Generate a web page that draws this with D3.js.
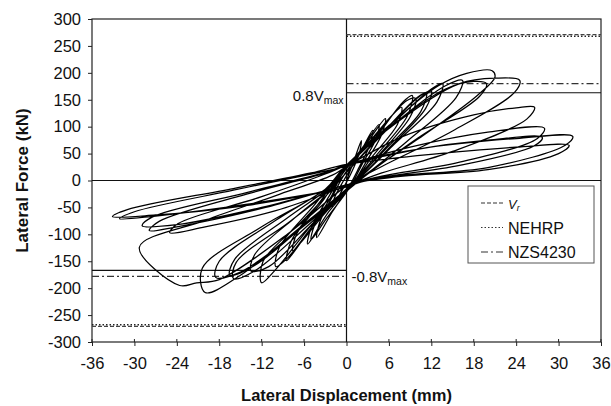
<!DOCTYPE html>
<html><head><meta charset="utf-8">
<script src="https://cdn.jsdelivr.net/npm/d3@7"></script>
<style>
body{margin:0;background:#fff}
text{font-family:"Liberation Sans",Arial,Helvetica,sans-serif;fill:#111}
</style>
</head><body><svg id="c" width="611" height="406"></svg>
<script>
// ---- data ----
const xTicks = [-36,-30,-24,-18,-12,-6,0,6,12,18,24,30,36];
const yTicks = [-300,-250,-200,-150,-100,-50,0,50,100,150,200,250,300];

// reference force levels (kN): [positive side, negative side]
const vrLevels    = [271, -271];
const nehrpLevels = [268, -268];
const nzsLevels   = [180, -178];
const v08Levels   = [163, -167];

// hysteresis cycles, [displacement mm, force kN]
const smallCycles = [
 [[0,0],[1,35],[2.1,74],[1.8,50],[0.6,12],[-0.5,-15],[-2,-50],[-1.7,-32],[-0.4,0]],
 [[-0.4,0],[1.8,48],[3.7,93],[3.3,66],[1.8,25],[0.2,-15],[-2,-58],[-4.2,-106],[-3.8,-78],[-1.8,-25],[-0.6,5]],
 [[-0.6,5],[2.5,62],[5.5,115],[5,86],[2.8,35],[0.8,-8],[-2.5,-58],[-5.5,-118],[-5,-88],[-2.5,-30],[-0.8,8]],
 [[-0.8,8],[2.2,60],[4.6,104],[4.2,78],[2.2,30],[0.6,-10],[-2.8,-70],[-5,-110],[-4.5,-82],[-2,-26],[-0.8,8]],
 [[-0.8,8],[3,68],[6.5,122],[7.8,136],[7.2,104],[3.5,42],[1,-5],[-3,-60],[-6.5,-116],[-7.6,-130],[-7,-98],[-3.2,-35],[-1,10]],
 [[-1,10],[4,78],[8,146],[9.3,158],[8.6,120],[4.3,48],[1.2,0],[-3.5,-62],[-7.5,-134],[-8.5,-149],[-7.8,-112],[-3.5,-35],[-1,12]],
 [[-1,12],[4,82],[8.5,148],[9.8,152],[9,118],[4.5,46],[1.2,-2],[-4,-72],[-8.5,-146],[-10,-160],[-9.5,-124],[-4.5,-45],[-1,12]]
];
const peakCycles = [
 [[-1,12],[5,88],[10,154],[11.3,163],[10.5,128],[5.5,58],[1.5,4],[-4,-68],[-10,-165],[-12,-190],[-11.8,-150],[-6,-72],[-1.5,-8],[0,15]],
 [[0,15],[5.5,94],[10.5,158],[12,166],[11.2,134],[6,60],[1.8,4],[-4.5,-76],[-11,-160],[-13.5,-168],[-13,-138],[-7,-66],[-1.8,-10],[0,15]],
 [[0,15],[6,98],[12,170],[13.6,180],[12.8,146],[6.5,64],[2,6],[-5,-78],[-13,-168],[-16,-182],[-15.6,-152],[-8,-76],[-2,-12],[-0.5,18]],
 [[-0.5,18],[7,108],[14,176],[16.4,186],[15.5,154],[8.5,72],[2.5,8],[-5,-72],[-13,-158],[-16.5,-176],[-15.8,-146],[-8,-66],[-2,-8],[-0.5,20]],
 [[-0.5,20],[6,102],[13,176],[17,199],[20.6,204],[21,192],[18.5,158],[10,76],[3,14],[-5,-70],[-15,-176],[-20,-208],[-20.4,-163],[-12,-86],[-3,-16],[-0.5,22]],
 [[-0.5,22],[7,108],[14,170],[18,184],[19.8,180],[18.8,156],[10,78],[3,12],[-5,-74],[-15,-170],[-18.5,-180],[-18,-150],[-10,-74],[-2,-6],[-0.5,22]],
 [[-0.5,22],[8,116],[16,180],[21,190],[24.5,186],[23.8,164],[15,92],[5,26],[0,-10],[-8,-96],[-18,-184],[-21.2,-190],[-23.6,-195],[-29.3,-124],[-20,-74],[-10,-28],[-2,10],[0,26]]
];
const postPeakCycles = [
 [[0,26],[8,82],[18,122],[24,135],[26.6,136],[25.5,114],[15,54],[5,14],[0,-10],[-10,-56],[-20,-86],[-25,-97],[-23.8,-80],[-12,-30],[-3,12],[0,28]],
 [[0,28],[9,62],[20,90],[28,97],[27,78],[16,34],[5,8],[0,-8],[-12,-50],[-24,-82],[-28.9,-84],[-27.5,-68],[-14,-22],[-3,15],[0,28]],
 [[0,28],[10,58],[20,75],[27.7,80],[26.5,64],[16,28],[5,6],[0,-8],[-12,-52],[-24,-86],[-27.9,-93],[-26.5,-76],[-14,-25],[-3,14],[0,30]],
 [[0,30],[10,58],[24,78],[32,82],[31,66],[20,24],[8,10],[2,-2],[0,-12],[-14,-46],[-27,-64],[-33.1,-67],[-31,-54],[-16,-15],[-5,14],[0,30]],
 [[0,30],[10,46],[24,62],[31.5,65],[30,50],[20,20],[8,8],[2,-3],[0,-12],[-14,-44],[-27,-66],[-32.1,-71],[-30,-58],[-16,-18],[-5,12],[0,26]]
];

// ---- chart ----
const svg = d3.select("#c");
const L = 92, R = 601, T = 19, B = 342;
const FONT = '"Liberation Sans",Arial,sans-serif';
const x = d3.scaleLinear().domain([-36,36]).range([L,R]);
const y = d3.scaleLinear().domain([-300,300]).range([B,T]);

// axes
const yAxis = svg.append("g").attr("transform",`translate(${L},0)`)
  .call(d3.axisLeft(y).tickValues(yTicks).tickFormat(d=>String(d)).tickSizeInner(4).tickSizeOuter(0).tickPadding(7));
const xAxis = svg.append("g").attr("transform",`translate(0,${B})`)
  .call(d3.axisBottom(x).tickValues(xTicks).tickFormat(d=>String(d)).tickSizeInner(4).tickSizeOuter(0).tickPadding(11));
[yAxis,xAxis].forEach(g=>{
  g.select(".domain").remove();
  g.selectAll("line").attr("stroke","#222");
  g.selectAll("text").attr("font-size",16.5).style("font-family",FONT).attr("fill","#111");
});
// inner tick marks on x-axis
svg.append("g").selectAll("line").data(xTicks).join("line")
  .attr("x1",d=>x(d)).attr("x2",d=>x(d)).attr("y1",B-3).attr("y2",B).attr("stroke","#222");

// frame
svg.append("rect").attr("x",L).attr("y",T).attr("width",R-L).attr("height",B-T)
  .attr("fill","none").attr("stroke","#222").attr("stroke-width",1.2);

// zero lines
svg.append("line").attr("x1",L).attr("x2",R).attr("y1",y(0)).attr("y2",y(0)).attr("stroke","#111").attr("stroke-width",1.2);
svg.append("line").attr("x1",x(0)).attr("x2",x(0)).attr("y1",T).attr("y2",B).attr("stroke","#111").attr("stroke-width",1.2);

// reference levels: positive on right half, negative on left half
function levelLines(vals, dash, color, w){
  svg.append("line").attr("x1",x(0)).attr("x2",R).attr("y1",y(vals[0])).attr("y2",y(vals[0]))
    .attr("stroke",color).attr("stroke-width",w).attr("stroke-dasharray",dash);
  svg.append("line").attr("x1",L).attr("x2",x(0)).attr("y1",y(vals[1])).attr("y2",y(vals[1]))
    .attr("stroke",color).attr("stroke-width",w).attr("stroke-dasharray",dash);
}
levelLines(vrLevels,"4,2","#444",1.3);
levelLines(nehrpLevels,"1.5,2","#222",1.3);
levelLines(nzsLevels,"7,3,2,3","#333",1.3);
levelLines(v08Levels,null,"#111",1.2);

// hysteresis
const pts = [];
[...smallCycles,...peakCycles,...postPeakCycles].forEach(c=>c.forEach(p=>{
  const last = pts[pts.length-1];
  if(!last || last[0]!==p[0] || last[1]!==p[1]) pts.push(p);
}));
const line = d3.line().x(d=>x(d[0])).y(d=>y(d[1])).curve(d3.curveCatmullRom.alpha(0.5));
svg.append("path").attr("d",line(pts)).attr("fill","none").attr("stroke","#000").attr("stroke-width",1.25);

// annotations
const a1 = svg.append("text").attr("x",x(0)-3).attr("y",101).attr("text-anchor","end").attr("font-size",15);
a1.append("tspan").text("0.8V");
a1.append("tspan").attr("font-size",10.5).attr("dy",3).text("max");
const a2 = svg.append("text").attr("x",x(0)+5).attr("y",y(v08Levels[1])+12).attr("font-size",15);
a2.append("tspan").text("-0.8V");
a2.append("tspan").attr("font-size",10.5).attr("dy",3).text("max");

// legend
const lg = svg.append("g");
lg.append("rect").attr("x",468).attr("y",186).attr("width",126).attr("height",77)
  .attr("fill","#fff").attr("stroke","#555").attr("stroke-width",1);
const entries = [
  {label:"V", sub:"r", dash:"4,2", italic:true},
  {label:"NEHRP", dash:"1.5,2"},
  {label:"NZS4230", dash:"7,3,2,3"}
];
entries.forEach((e,i)=>{
  const yy = 203 + i*24.5;
  lg.append("line").attr("x1",481).attr("x2",503).attr("y1",yy).attr("y2",yy)
    .attr("stroke","#333").attr("stroke-width",1.2).attr("stroke-dasharray",e.dash);
  const t = lg.append("text").attr("x",508).attr("y",yy+6).attr("font-size",16);
  if(e.italic){
    t.attr("font-style","italic").attr("fill","#555").attr("font-size",13);
    t.append("tspan").text(e.label);
    t.append("tspan").attr("font-size",9).attr("dy",2).text(e.sub);
  } else t.text(e.label);
});

// axis titles
svg.append("text").attr("transform",`translate(28,${(T+B)/2}) rotate(-90)`)
  .attr("text-anchor","middle").attr("font-size",17).attr("font-weight","bold").text("Lateral Force (kN)");
svg.append("text").attr("x",(L+R)/2).attr("y",401).attr("text-anchor","middle")
  .attr("font-size",16.5).attr("font-weight","bold").text("Lateral Displacement (mm)");
</script></body></html>
